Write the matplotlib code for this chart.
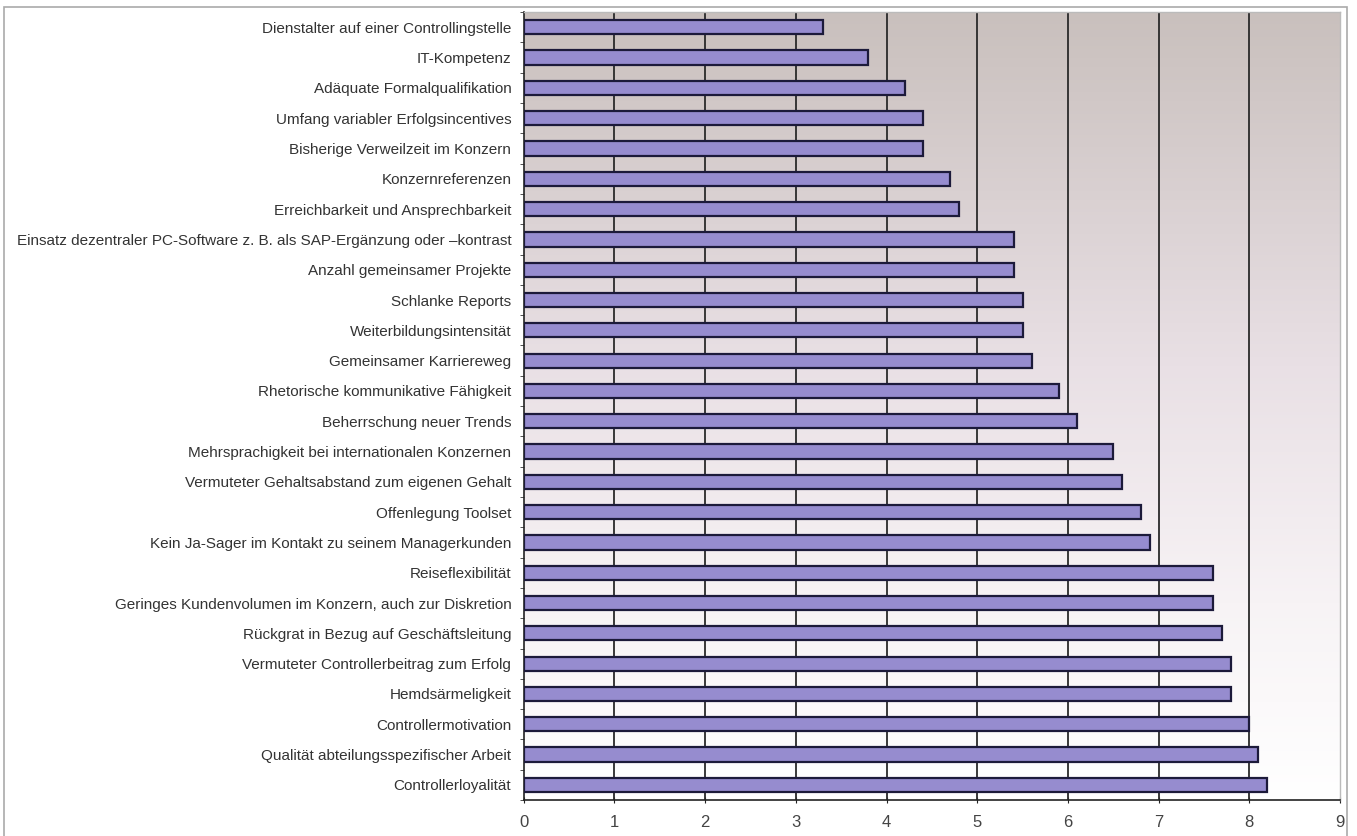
import numpy as np
import matplotlib.pyplot as plt
from matplotlib.colors import LinearSegmentedColormap
from matplotlib.patches import Rectangle

plt.rcParams['font.family'] = ['Liberation Sans', 'DejaVu Sans']

# Kriterien (von oben nach unten) und Bewertungen
kriterien = [
    "Dienstalter auf einer Controllingstelle",
    "IT-Kompetenz",
    "Adäquate Formalqualifikation",
    "Umfang variabler Erfolgsincentives",
    "Bisherige Verweilzeit im Konzern",
    "Konzernreferenzen",
    "Erreichbarkeit und Ansprechbarkeit",
    "Einsatz dezentraler PC-Software z. B. als SAP-Ergänzung oder \u2013kontrast",
    "Anzahl gemeinsamer Projekte",
    "Schlanke Reports",
    "Weiterbildungsintensität",
    "Gemeinsamer Karriereweg",
    "Rhetorische kommunikative Fähigkeit",
    "Beherrschung neuer Trends",
    "Mehrsprachigkeit bei internationalen Konzernen",
    "Vermuteter Gehaltsabstand zum eigenen Gehalt",
    "Offenlegung Toolset",
    "Kein Ja-Sager im Kontakt zu seinem Managerkunden",
    "Reiseflexibilität",
    "Geringes Kundenvolumen im Konzern, auch zur Diskretion",
    "Rückgrat in Bezug auf Geschäftsleitung",
    "Vermuteter Controllerbeitrag zum Erfolg",
    "Hemdsärmeligkeit",
    "Controllermotivation",
    "Qualität abteilungsspezifischer Arbeit",
    "Controllerloyalität",
]
werte = [3.3, 3.8, 4.2, 4.4, 4.4, 4.7, 4.8, 5.4, 5.4, 5.5, 5.5, 5.6, 5.9,
         6.1, 6.5, 6.6, 6.8, 6.9, 7.6, 7.6, 7.7, 7.8, 7.8, 8.0, 8.1, 8.2]
x_ticks = list(range(10))

fig = plt.figure(figsize=(13.57, 8.36), dpi=100)
ax = fig.add_axes([0.386, 0.043, 0.6015, 0.9425])

# Hintergrund: Verlauf von grau-rosa (oben) nach weiß (unten)
cmap = LinearSegmentedColormap.from_list(
    "bg", [(0.0, "#ffffff"), (0.25, "#f7f3f5"), (0.55, "#e9e0e5"), (1.0, "#c9c0bd")])
grad = np.linspace(0, 1, 256).reshape(-1, 1)
ax.imshow(grad, aspect="auto", cmap=cmap, origin="lower",
          extent=[0, 9, len(kriterien) - 0.5, -0.5], zorder=0)

y = np.arange(len(kriterien))
ax.barh(y, werte, height=0.47, color="#968ccf", edgecolor="#1c1a3a",
        linewidth=1.6, zorder=3)

ax.set_xlim(0, 9)
ax.set_ylim(len(kriterien) - 0.5, -0.5)
ax.set_xticks(x_ticks)
ax.set_xticklabels([str(t) for t in x_ticks], fontsize=12, color="#444444")
ax.set_yticks(y)
ax.set_yticklabels(kriterien, fontsize=11, color="#333333")
ax.tick_params(axis="y", length=0, pad=9)
ax.set_yticks(np.arange(-0.5, len(kriterien)), minor=True)
ax.tick_params(axis="y", which="minor", length=3, direction="out", color="#333333")
ax.tick_params(axis="x", length=4, direction="inout", color="#222222", pad=9)

# vertikale Gitterlinien
for xv in x_ticks[1:-1]:
    ax.axvline(xv, color="#2a2a2a", linewidth=1.3, zorder=2)

for side in ["top", "right"]:
    ax.spines[side].set_color("#bbbbbb")
    ax.spines[side].set_linewidth(1.0)
ax.spines["left"].set_color("#222222")
ax.spines["bottom"].set_color("#222222")
ax.spines["left"].set_linewidth(1.2)
ax.spines["bottom"].set_linewidth(1.2)

# Rahmen um das Diagramm
fig.patches.append(Rectangle((4 / 1357, -0.01), 1343 / 1357, 1 - 7 / 836 + 0.01,
                             transform=fig.transFigure, fill=False,
                             edgecolor="#aaaaaa", linewidth=1.2))

fig.savefig("out.png", dpi=100)
